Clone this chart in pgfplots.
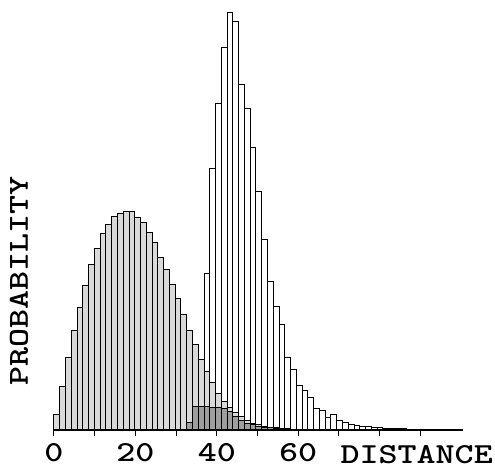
\documentclass[border=0pt]{standalone}
\usepackage{pgfplots}
\pgfplotsset{compat=1.18}
\usepackage{pgfplotstable}
\usepackage{fontspec}
\setmainfont{Liberation Mono}
\newfontfamily\courfam{lmmonolt10-bold}[Extension=.otf, FakeStretch=1.25]

\pgfplotstableread{
k h
1 15
2 43.3
3 72.7
4 99.3
5 122.7
6 144.3
7 165.7
8 181
9 196.3
10 205.7
11 213.3
12 216.7
13 218.3
14 218.3
15 212.7
16 207.7
17 197.3
18 187.7
19 172.7
20 160
21 145
22 131.7
23 115.3
24 99.3
25 85
26 70.7
27 58.3
28 47.3
29 36.7
30 28.3
31 22.7
32 17.7
33 13.3
34 9.3
35 6.7
36 5
37 3.3
38 2.7
39 2
40 1.5
41 1
42 0.7
43 0.5
44 0
}\grayhist

\pgfplotstableread{
k h
24 7.3
25 23.3
26 23.3
27 23
28 22.5
29 22
30 21
31 18
32 13
33 9.3
34 6.7
35 5
36 3.3
37 2.7
38 2
39 1.5
40 1
41 0
}\overlaphist

\pgfplotstableread{
k h
24 7.3
25 23.3
26 70
27 156
28 261
29 326
30 382.7
31 417.3
32 408.3
33 345.7
34 321.3
35 282.3
36 238.3
37 190.7
38 148
39 123.3
40 105
41 72.7
42 60.7
43 44.3
44 39
45 32.7
46 21.3
47 19.3
48 12.7
49 15
50 9
51 7.3
52 5.7
53 4.3
54 3.3
55 3
56 2.3
57 2
58 1.7
59 1.4
60 1.2
61 1
62 0.9
63 0.8
64 0.7
65 0.6
66 0.5
67 0.4
68 0.3
69 0
}\whitehist

\newcommand{\labfont}{\fontsize{29}{29}\selectfont\courfam}

\begin{document}
\begin{tikzpicture}
\begin{axis}[
  at={(54pt,40pt)}, anchor=south west,
  scale only axis, width=409pt, height=430pt,
  xmin=0, xmax=100.5, ymin=0, ymax=430,
  axis x line=bottom, axis y line=left,
  x axis line style={-, line width=1.4pt},
  y axis line style={draw=none},
  ytick=\empty,
  xtick={0,10,...,90},
  xticklabels={0,,20,,40,,60,,,},
  tick align=outside,
  major tick length=6pt,
  tick style={black, line width=1pt},
  /pgf/number format/assume math mode=true,
  tick label style={font=\labfont},
  xticklabel style={anchor=base, yshift=-26pt},
  xlabel={DISTANCE},
  ylabel={PROBABILITY},
  every axis x label/.style={at={(axis description cs:1.0733,-0.0770)}, anchor=base east, inner sep=0pt, font=\labfont},
  every axis y label/.style={at={(axis description cs:-0.0636,0.3465)}, anchor=base, rotate=90, inner sep=0pt, font=\labfont},
  clip=false,
]
\addplot[ybar interval, fill=black!15, draw=black, line width=1pt]
  table[x expr={(\thisrow{k}-1)*1.418}, y=h] {\grayhist};
\addplot[ybar interval, fill=black!38, draw=black, line width=1pt]
  table[x expr={(\thisrow{k}-1)*1.418}, y=h] {\overlaphist};
\addplot[ybar interval, fill=none, draw=black, line width=1pt]
  table[x expr={(\thisrow{k}-1)*1.418}, y=h] {\whitehist};
\end{axis}
\pgfresetboundingbox
\path (0,0) rectangle (495pt,470pt);
\end{tikzpicture}
\end{document}
